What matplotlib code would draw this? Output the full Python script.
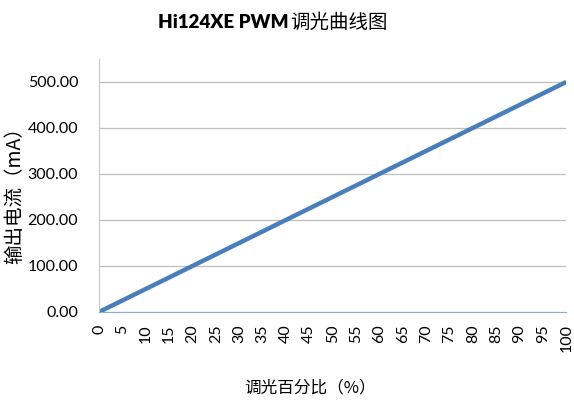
import matplotlib
matplotlib.use("Agg")
import matplotlib.pyplot as plt

plt.rcParams['font.family'] = ['Lato', 'Noto Sans CJK SC', 'DejaVu Sans']

# dimming percentage (%) and output current (mA)
dim_pct = [0, 5, 10, 15, 20, 25, 30, 35, 40, 45, 50,
           55, 60, 65, 70, 75, 80, 85, 90, 95, 100]
current = [0, 25, 50, 75, 100, 125, 150, 175, 200, 225, 250,
           275, 300, 325, 350, 375, 400, 425, 450, 475, 500]
y_ticks = [0, 100, 200, 300, 400, 500]

fig = plt.figure(figsize=(5.74, 4.01), dpi=100)
ax = fig.add_axes([0.1725, 0.222, 0.814, 0.631])

ax.plot(dim_pct, current, color="#4A7EBB", linewidth=3.2, solid_capstyle="butt")

ax.set_xlim(0, 100)
ax.set_ylim(0, 550)
ax.set_xticks(dim_pct)
ax.set_xticklabels([str(v) for v in dim_pct], rotation=90, fontsize=11.5)
ax.set_yticks(y_ticks)
ax.set_yticklabels([f"{v:.2f}" for v in y_ticks], fontsize=11.5)
ax.tick_params(axis="y", length=0, pad=15)
ax.tick_params(axis="x", length=0, pad=9)
ax.grid(axis="y", color="#bebebe", linewidth=0.9)
ax.set_axisbelow(True)

for s in ["top", "right"]:
    ax.spines[s].set_visible(False)
ax.spines["left"].set_color("#c8c8c8")
ax.spines["bottom"].set_color("#8EAADB")
ax.spines["bottom"].set_zorder(3)

fig.text(0.503, 0.945, "Hi124XE PWM", ha="right", va="center",
         fontsize=13.5, fontweight="heavy", family=["Lato", "DejaVu Sans"])
fig.text(0.505, 0.945, "调光曲线图", ha="left", va="center",
         fontsize=14, family=["Noto Sans CJK SC"])
fig.text(0.026, 0.524, "输出电流（mA）", rotation=90, ha="center", va="center",
         fontsize=14, fontweight="medium", family=["Noto Sans CJK SC", "DejaVu Sans"])
fig.text(0.54, 0.032, "调光百分比（%）", ha="center", va="center",
         fontsize=12, family=["Noto Sans CJK SC", "DejaVu Sans"])

fig.savefig("out.png", dpi=100)
